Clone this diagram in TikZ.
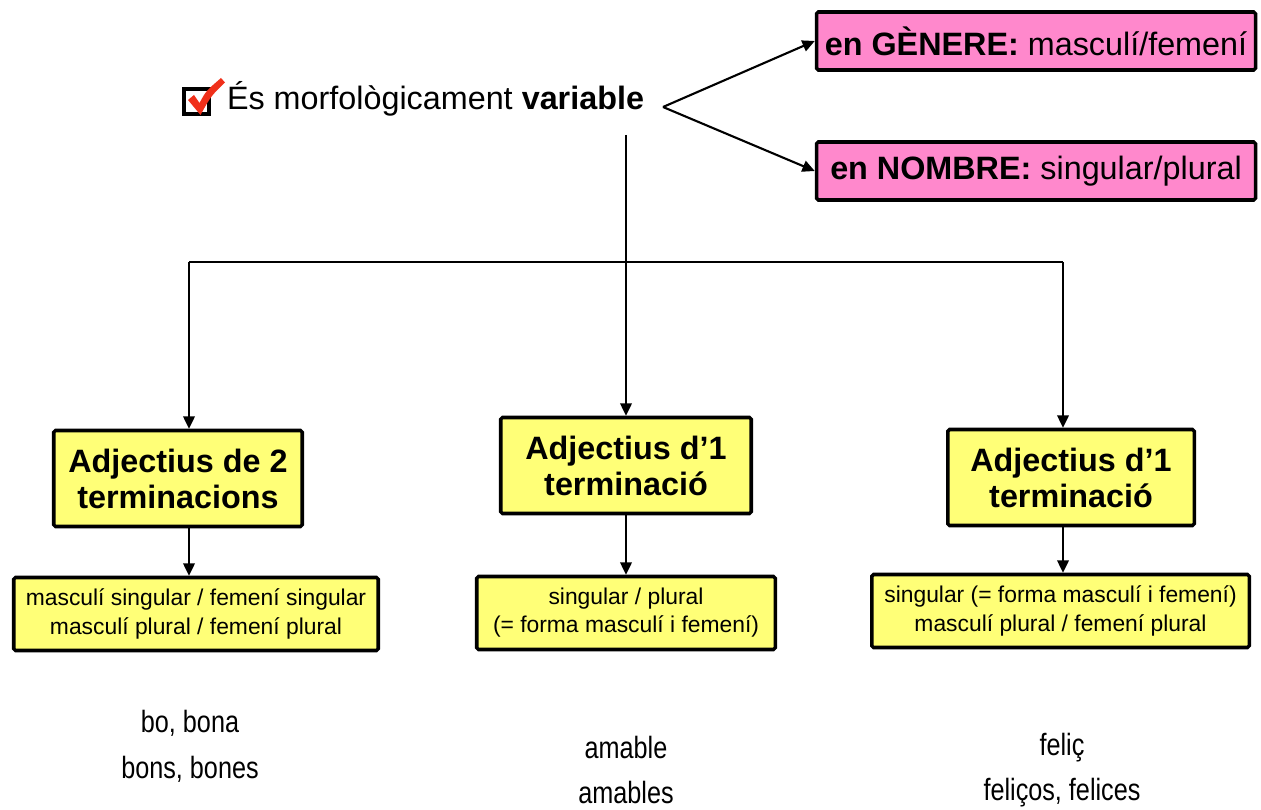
\documentclass[tikz,border=0pt]{standalone}
\usepackage{fontspec}
\setmainfont{Liberation Sans}
\newfontfamily\handfont[FakeStretch=0.82]{Liberation Sans}
\usetikzlibrary{arrows.meta}
\definecolor{boxpink}{HTML}{FF88CC}
\definecolor{boxyellow}{HTML}{FFFF77}
\definecolor{checkred}{HTML}{F0301A}

\begin{document}
\begin{tikzpicture}[
    >={Triangle[length=7pt,width=6.5pt]}, line width=1.2pt,
    pinkbox/.style={draw, line width=2pt, fill=boxpink, rounded corners=1pt, minimum width=8.78cm, minimum height=1.16cm, font=\fontsize{18.4}{21}\selectfont},
    headbox/.style={draw, line width=2pt, fill=boxyellow, rounded corners=1pt, minimum height=1.92cm, align=center, font=\fontsize{18.4}{20.5}\selectfont\bfseries},
    formbox/.style={draw, line width=2pt, fill=boxyellow, rounded corners=1pt, minimum height=1.46cm, align=center, font=\fontsize{13}{16}\selectfont},
    example/.style={align=center, font=\handfont\fontsize{17.5}{26}\selectfont}]
  \useasboundingbox (0,0) rectangle (25.22,-16.2);

  % top line
  \node[draw, line width=2.4pt, minimum size=0.5cm, inner sep=0] (Check) at (3.93,-2.03) {};
  \fill[checkred] (3.76,-2.0) -- (3.88,-1.9) -- (3.99,-2.06) .. controls (4.12,-1.82) .. (4.42,-1.56)
    -- (4.5,-1.65) .. controls (4.22,-1.92) .. (4.01,-2.3) -- cycle;
  \node[anchor=base west, inner sep=0, font=\fontsize{18.4}{21}\selectfont] (Variable) at (4.52,-2.2) {És morfològicament \textbf{variable}};
  \coordinate (Split) at (13.26,-2.14);

  \node[pinkbox] (Genere) at (20.72,-0.82) {\textbf{en GÈNERE:} masculí/femení};
  \node[pinkbox] (Nombre) at (20.72,-3.42) {\textbf{en NOMBRE:} singular/plural};

  \draw[->] (Split) -- (Genere.west);
  \draw[->] (Split) -- (Nombre.west);

  % three kinds
  \node[headbox, minimum width=4.97cm] (DosTerm) at (3.56,-9.57) {Adjectius de 2\\terminacions};
  \node[headbox, minimum width=5.01cm] (UnaTermA) at (12.52,-9.31) {Adjectius d’1\\terminació};
  \node[headbox, minimum width=4.93cm] (UnaTermB) at (21.42,-9.55) {Adjectius d’1\\terminació};

  \coordinate (Top) at (12.52,-2.7);
  \coordinate (LeftEnd) at (3.78,-5.24);
  \coordinate (RightEnd) at (21.26,-5.24);

  \draw (LeftEnd) -- (RightEnd);
  \draw[->] (Top) -- (UnaTermA.north);
  \draw[->] (LeftEnd) -- (LeftEnd |- DosTerm.north);
  \draw[->] (RightEnd) -- (RightEnd |- UnaTermB.north);

  % forms
  \node[formbox, minimum width=7.29cm] (FormesDos) at (3.92,-12.28) {masculí singular / femení singular\\masculí plural / femení plural};
  \node[formbox, minimum width=5.97cm] (FormesUnaA) at (12.52,-12.26) {singular / plural\\(= forma masculí i femení)};
  \node[formbox, minimum width=7.55cm] (FormesUnaB) at (21.21,-12.22) {singular (= forma masculí i femení)\\masculí plural / femení plural};

  \draw[->] (LeftEnd |- DosTerm.south) -- (LeftEnd |- FormesDos.north);
  \draw[->] (UnaTermA.south) -- (UnaTermA.south |- FormesUnaA.north);
  \draw[->] (RightEnd |- UnaTermB.south) -- (RightEnd |- FormesUnaB.north);

  % examples
  \node[example] (ExDos) at (3.8,-14.92) {bo, bona\\bons, bones};
  \node[example] (ExUnaA) at (12.52,-15.4) {amable\\amables};
  \node[example] (ExUnaB) at (21.24,-15.4) {feliç\\feliços, felices};
\end{tikzpicture}
\end{document}
